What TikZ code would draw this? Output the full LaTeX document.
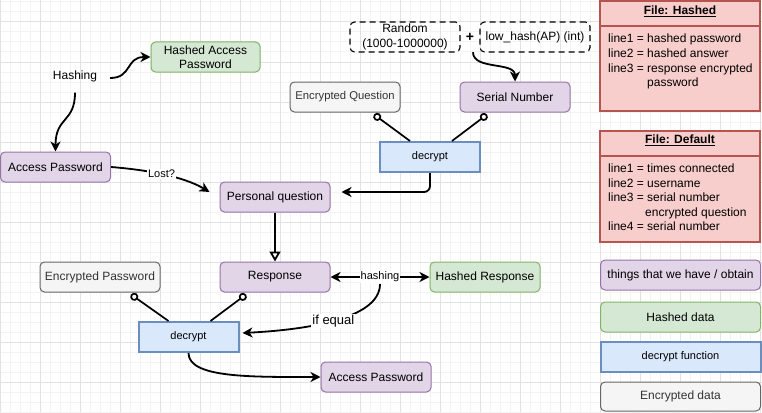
\documentclass[tikz,border=0pt]{standalone}
\usepackage{fontspec}
\setmainfont{Liberation Sans}
\usetikzlibrary{arrows.meta}
\definecolor{pfill}{HTML}{E1D5E7}
\definecolor{pline}{HTML}{9673A6}
\definecolor{gfill}{HTML}{D5E8D4}
\definecolor{gline}{HTML}{82B366}
\definecolor{bfill}{HTML}{DAE8FC}
\definecolor{bline}{HTML}{6C8EBF}
\definecolor{efill}{HTML}{F5F5F5}
\definecolor{eline}{HTML}{666666}
\definecolor{etext}{HTML}{333333}
\definecolor{rfill}{HTML}{F8CECC}
\definecolor{rline}{HTML}{B85450}
\definecolor{gridminor}{HTML}{F3F3F3}
\definecolor{gridmajor}{HTML}{E2E2E2}
\tikzset{
 f12/.style={font=\fontsize{12}{14.5}\selectfont},
 f11/.style={font=\fontsize{11}{13}\selectfont},
 basebox/.style={rounded corners=4.5pt, minimum width=110pt, minimum height=30pt, inner sep=0pt, align=center, f12, line width=1pt},
 purplebox/.style={basebox, draw=pline, fill=pfill},
 greenbox/.style={basebox, draw=gline, fill=gfill},
 graybox/.style={basebox, draw=eline, fill=efill, text=etext},
 bluebox/.style={basebox, rounded corners=0pt, draw=bline, fill=bfill, line width=2pt, minimum width=100pt, f11},
 dashbox/.style={basebox, draw=black, dash pattern=on 6pt off 4pt, line width=1.1pt},
 plaintext/.style={inner sep=0pt, f12},
 lbl/.style={fill=white, inner sep=1pt, f11},
 ed/.style={line width=1.8pt, ->},
 cn/.style={line width=1.7pt, {Circle[open,length=8pt,width=8pt,fill=white]}-},
 trie/.style={line width=1.8pt, -{Triangle[open,length=10pt,width=11pt,fill=white]}},
 filebox/.style={draw=rline, fill=rfill, line width=2pt},
 filetxt/.style={anchor=base west, inner sep=0pt, f12},
 >={Stealth[length=10pt,width=10pt,inset=3pt]}
}
\begin{document}
\begin{tikzpicture}[x=1pt,y=-1pt]
\useasboundingbox (0,0) rectangle (762,412);
\fill[white] (0,0) rectangle (762,412);
% grid
\foreach \x in {0,10,...,760} \draw[gridminor, line width=1pt] (\x,0) -- (\x,412);
\foreach \y in {2,12,...,412} \draw[gridminor, line width=1pt] (0,\y) -- (762,\y);
\foreach \x in {0,40,...,760} \draw[gridmajor, line width=1pt] (\x,0) -- (\x,412);
\foreach \y in {22,62,...,402} \draw[gridmajor, line width=1pt] (0,\y) -- (762,\y);

% nodes
\node[greenbox, minimum width=109pt] (hap) at (205.5,57) {Hashed Access\\Password};
\node[plaintext, minimum width=70pt, minimum height=33pt] (hashtxt) at (75,76) {Hashing};
\node[purplebox] (ap1) at (55.5,167) {Access Password};
\node[purplebox] (pq) at (275,197) {Personal question};
\node[graybox, font=\fontsize{11.3}{14}\selectfont] (eq) at (345,97) {Encrypted Question};
\node[purplebox] (sn) at (515,97) {Serial Number};
\node[bluebox] (dec1) at (430,157) {decrypt};
\node[dashbox] (rnd) at (405,37) {Random\\(1000-1000000)};
\node[inner sep=0pt, minimum height=30pt, font=\fontsize{14}{14}\selectfont\bfseries] (plus) at (470,37) {+};
\node[dashbox] (lh) at (535,37) {low\_hash(AP) (int)};
\node[purplebox] (resp) at (275,277) {Response};
\node[graybox, minimum width=120pt] (ep) at (100,277) {Encrypted Password};
\node[greenbox] (hr) at (485,277) {Hashed Response};
\node[bluebox] (dec2) at (188.5,337) {decrypt};
\node[purplebox] (ap2) at (376,377) {Access Password};

% file boxes
\draw[filebox] (600,1) rectangle (760,111);
\draw[rline, line width=2pt] (600,26) -- (760,26);
\node[inner sep=0pt, f12] (fh) at (680,11) {\underline{\textbf{File: Hashed}}};
\node[filetxt] (h1) at (608,43) {line1 = hashed password};
\node[filetxt] (h2) at (608,57.5) {line2 = hashed answer};
\node[filetxt] (h3) at (608,72) {line3 = response encrypted};
\node[filetxt] (h4) at (608,86.5) {\phantom{line3 = }password};

\draw[filebox] (600,131) rectangle (760,242);
\draw[rline, line width=2pt] (600,155.5) -- (760,155.5);
\node[inner sep=0pt, f12] (fd) at (680,140) {\underline{\textbf{File: Default}}};
\node[filetxt] (d1) at (608,172.5) {line1 = times connected};
\node[filetxt] (d2) at (608,187) {line2 = username};
\node[filetxt] (d3) at (608,201.5) {line3 = serial number};
\node[filetxt] (d4) at (645,216) {encrypted question};
\node[filetxt] (d5) at (608,230.5) {line4 = serial number};

% legend
\node[purplebox, minimum width=160pt] (lg1) at (680.5,275) {things that we have / obtain};
\node[greenbox, minimum width=160pt] (lg2) at (680.5,317) {Hashed data};
\node[bluebox, minimum width=160pt] (lg3) at (680.5,357) {decrypt function};
\node[graybox, minimum width=160pt, minimum height=29pt] (lg4) at (680.5,396.5) {Encrypted data};

% connectors
\draw[ed] ([yshift=-2pt]hashtxt.east) .. controls +(22,0) and +(-25,0) .. (hap.west);
\draw[ed] (hashtxt.south) .. controls +(0,30) and +(0,-35) .. (ap1.north);
\draw[ed] (ap1.east) .. controls +(50,4) and +(-20,-12) .. ([xshift=-10pt,yshift=5pt]pq.west)
  node[lbl, pos=0.4] (lost) {Lost?};
\draw[ed] ([xshift=3pt]plus.south) .. controls +(0,18) and +(0,-20) .. (sn.north);
\draw[cn] ([xshift=29pt,yshift=-2pt]eq.south) -- ([xshift=-20pt]dec1.north);
\draw[cn] ([xshift=-28pt,yshift=-2pt]sn.south) -- ([xshift=22pt]dec1.north);
\draw[ed, rounded corners=6pt] (dec1.south) |- ([xshift=11pt,yshift=5pt]pq.east);
\draw[trie] (pq.south) -- (resp.north);
\draw[line width=1.8pt, <->] (resp.east) -- node[lbl] (hl) {hashing} (hr.west);
\draw[ed] (hl.south) .. controls +(0,36) and +(59,-3) .. ([xshift=3pt,yshift=4pt]dec2.east)
  node[fill=white, inner sep=1pt, font=\fontsize{13}{14}\selectfont, pos=0.5] (ifeq) {if equal};
\draw[cn] ([xshift=31pt,yshift=-2pt]ep.south) -- ([xshift=-20pt]dec2.north);
\draw[cn] ([xshift=-29pt,yshift=-2pt]resp.south) -- ([xshift=22pt]dec2.north);
\draw[ed] (dec2.south) .. controls +(0,25) and +(-70,0) .. (ap2.west);
\end{tikzpicture}
\end{document}
